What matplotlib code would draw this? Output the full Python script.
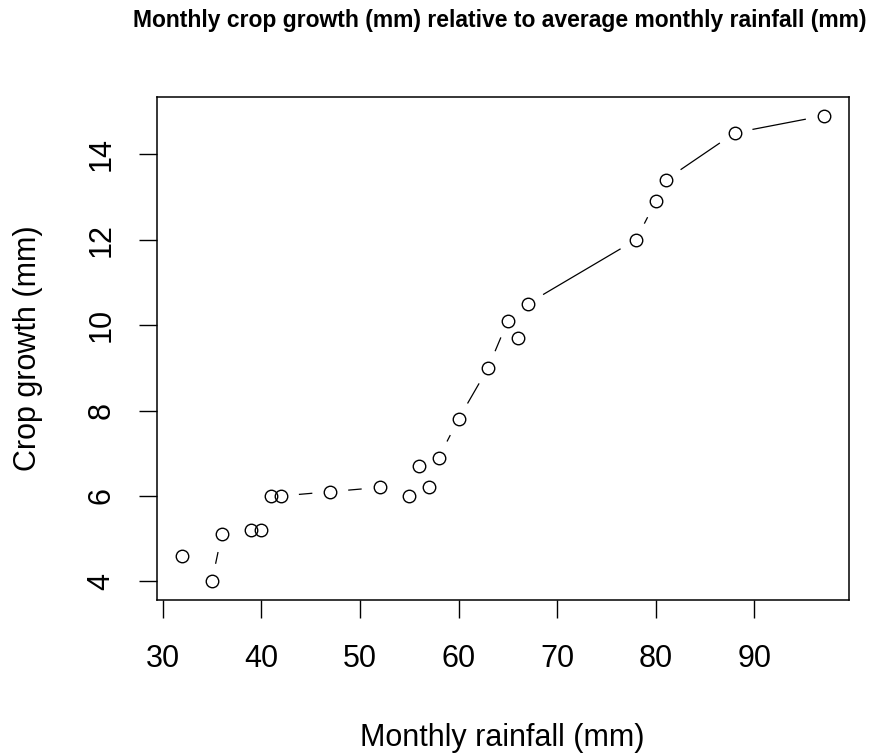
import numpy as np
import matplotlib
matplotlib.use('Agg')
import matplotlib.pyplot as plt

# monthly rainfall (mm) and crop growth (mm)
rainfall = [32, 35, 36, 39, 40, 41, 42, 47, 52, 55, 56, 57, 58, 60, 63, 65, 66, 67, 78, 80, 81, 88, 97]
growth = [4.6, 4.0, 5.1, 5.2, 5.2, 6.0, 6.0, 6.1, 6.2, 6.0, 6.7, 6.2, 6.9, 7.8, 9.0, 10.1, 9.7, 10.5, 12.0, 12.9, 13.4, 14.5, 14.9]
xticks = [30, 40, 50, 60, 70, 80, 90]
yticks = [4, 6, 8, 10, 12, 14]

plt.rcParams['font.family'] = ['Liberation Sans', 'DejaVu Sans']

fig = plt.figure(figsize=(8.8, 7.54), dpi=100)
ax = fig.add_axes([0.178, 0.2042, 0.787, 0.667])

# R style limits: data range padded by 4%
x = np.array(rainfall, dtype=float)
y = np.array(growth, dtype=float)
xpad = (x.max() - x.min()) * 0.04
ypad = (y.max() - y.min()) * 0.04
ax.set_xlim(x.min() - xpad, x.max() + xpad)
ax.set_ylim(y.min() - ypad, y.max() + ypad)

# type="b": line segments with gaps around each point
gap = 18  # px
pts = ax.transData.transform(np.column_stack([x, y]))
inv = ax.transData.inverted()
for p0, p1 in zip(pts[:-1], pts[1:]):
    d = p1 - p0
    L = np.hypot(*d)
    if L - 2 * gap < 3.5:
        continue
    u = d / L
    a = inv.transform(p0 + u * gap)
    b = inv.transform(p1 - u * gap)
    ax.plot([a[0], b[0]], [a[1], b[1]], color='black', lw=0.9, solid_capstyle='butt')

ax.plot(x, y, 'o', mfc='none', mec='black', ms=9, mew=1.0)

ax.set_xticks(xticks)
ax.set_yticks(yticks)
ax.tick_params(axis='both', direction='out', length=13, width=1.0, labelsize=22)
ax.tick_params(axis='x', pad=19)
ax.tick_params(axis='y', pad=16)
for lab in ax.get_yticklabels():
    lab.set_rotation(90)
    lab.set_va('center')
for s in ax.spines.values():
    s.set_linewidth(1.1)

ax.set_xlabel('Monthly rainfall (mm)', fontsize=22, va='center')
ax.set_ylabel('Crop growth (mm)', fontsize=22, va='center')
ax.xaxis.set_label_coords(0.4985, -0.2744)
ax.yaxis.set_label_coords(-0.1857, 0.5)
fig.text(0.568, 0.973, 'Monthly crop growth (mm) relative to average monthly rainfall (mm)',
         ha='center', va='center', fontsize=16.5, fontweight='bold')

fig.savefig('out.png', dpi=100)
